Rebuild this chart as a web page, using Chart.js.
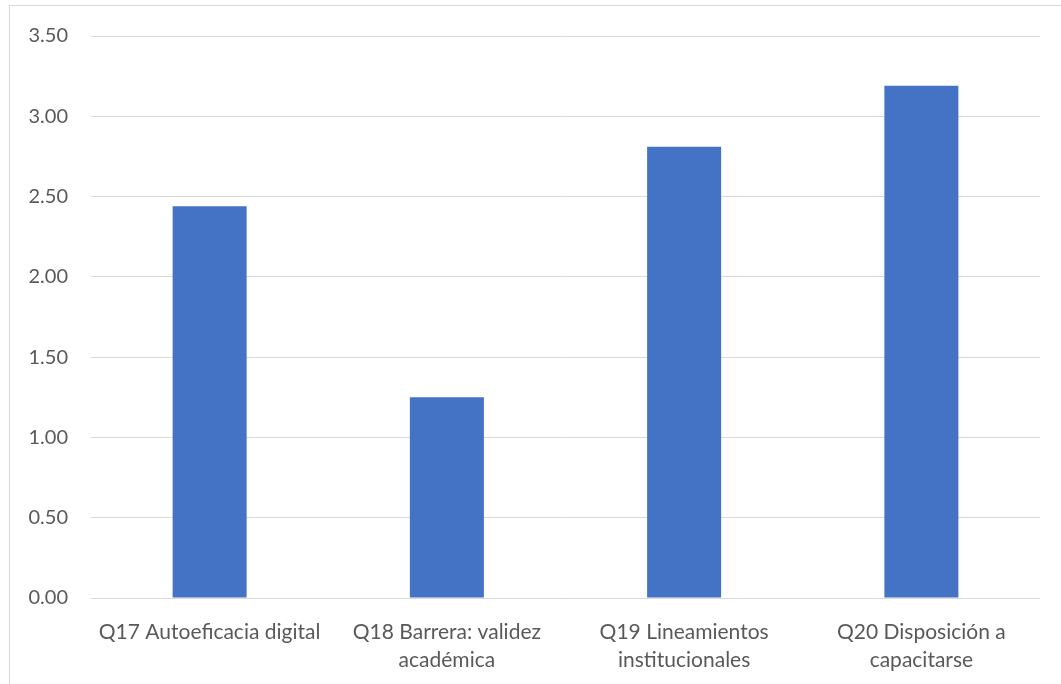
<!DOCTYPE html>
<html>
<head>
<meta charset="utf-8">
<script src="https://cdn.jsdelivr.net/npm/chart.js@4"></script>
<style>
  html, body { margin: 0; padding: 0; background: #fff; }
  #wrap { position: relative; width: 1061px; height: 684px; overflow: hidden; }
  #frame { position: absolute; left: 9px; top: 5px; width: 1100px; height: 800px; border: 1px solid #d9d9d9; box-sizing: border-box; }
  canvas { position: absolute; left: 0; top: 0; }
</style>
</head>
<body>
<div id="wrap">
  <div id="frame"></div>
  <canvas id="c" width="1061" height="684"></canvas>
</div>
<script>
const categories = [
  ["Q17 Autoeficacia digital"],
  ["Q18 Barrera: validez", "académica"],
  ["Q19 Lineamientos", "institucionales"],
  ["Q20 Disposición a", "capacitarse"]
];
const values = [2.44, 1.25, 2.81, 3.19];
const yMin = 0, yMax = 3.5, yStep = 0.5;

new Chart(document.getElementById('c'), {
  type: 'bar',
  data: {
    labels: categories,
    datasets: [{
      data: values,
      backgroundColor: '#4472c4',
      borderWidth: 0,
      categoryPercentage: 1,
      barPercentage: 0.312
    }]
  },
  options: {
    responsive: false,
    animation: false,
    devicePixelRatio: 1,
    layout: { padding: { left: 0, right: 21, top: 36, bottom: 0 } },
    plugins: { legend: { display: false }, tooltip: { enabled: false } },
    scales: {
      x: {
        grid: { display: false, drawTicks: false },
        border: { display: false },
        ticks: {
          color: '#595959',
          font: { family: 'Lato', size: 21, lineHeight: 1.34 },
          padding: 20,
          maxRotation: 0,
          autoSkip: false
        },
        afterFit: s => { s.height = 86; }
      },
      y: {
        min: yMin, max: yMax,
        grid: { color: '#d9d9d9', lineWidth: 1, drawTicks: false },
        border: { display: false },
        ticks: {
          stepSize: yStep,
          color: '#595959',
          font: { family: 'Lato', size: 20 },
          padding: 23,
          callback: v => Number(v).toFixed(2)
        },
        afterFit: s => { s.width = 91; }
      }
    }
  }
});
</script>
</body>
</html>
